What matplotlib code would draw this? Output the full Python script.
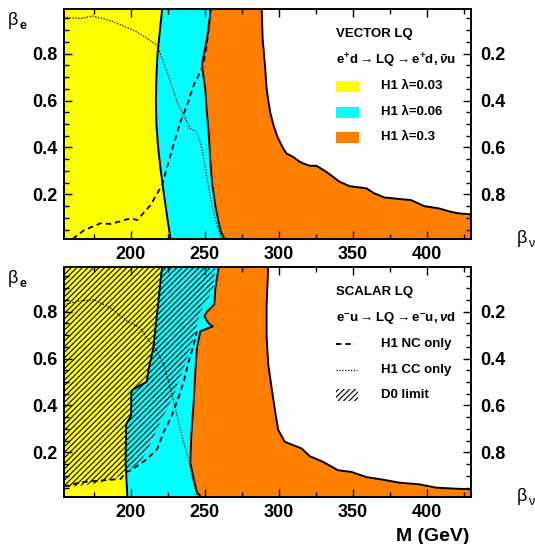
import matplotlib
matplotlib.use("Agg")
import matplotlib.pyplot as plt
from matplotlib.patches import Rectangle
from matplotlib.ticker import MultipleLocator, FormatStrFormatter

plt.rcParams['font.family'] = ['Liberation Sans', 'DejaVu Sans']
plt.rcParams['font.weight'] = 'bold'
plt.rcParams['mathtext.fontset'] = 'custom'
plt.rcParams['mathtext.rm'] = 'Liberation Sans'
plt.rcParams['mathtext.bf'] = 'Liberation Sans:bold'
plt.rcParams['mathtext.it'] = 'Liberation Sans:italic'
plt.rcParams['hatch.linewidth'] = 0.8

M_MIN, M_MAX = 155, 430
B_MIN, B_MAX = 0.01, 0.99

YELLOW = '#ffff00'
CYAN = '#00ffff'
ORANGE = '#ff8000'

# ---- vector LQ (top) : excluded regions, boundary M(beta_e) ----
vec_l003_b = [0.99, 0.90, 0.80, 0.70, 0.60, 0.50, 0.40, 0.30, 0.20, 0.10, 0.01]
vec_l003_m = [221.3, 219.8, 218.2, 217.4, 217.1, 217.4, 218.6, 220.4, 222.5, 224.8, 227.0]

vec_l006_b = [0.99, 0.93, 0.864, 0.80, 0.75, 0.70, 0.65, 0.55, 0.466, 0.35, 0.254, 0.154, 0.083, 0.04, 0.01]
vec_l006_m = [254.2, 253.0, 251.6, 249.5, 248.2, 249.3, 250.4, 251.5, 252.7, 253.8, 254.9, 257.2, 259.4, 261.0, 263.5]

vec_l03_b = [0.99, 0.864, 0.75, 0.651, 0.601, 0.545, 0.50, 0.445, 0.396, 0.374, 0.36, 0.339, 0.332,
             0.322, 0.322, 0.296, 0.254, 0.235, 0.226, 0.204, 0.187, 0.179, 0.176, 0.15, 0.14,
             0.126, 0.119, 0.115]
vec_l03_m = [288.6, 289.2, 290.8, 291.9, 293.0, 294.5, 296.3, 299.2, 303.1, 305.4, 309.8, 314.3, 316.6,
             321.0, 325.6, 332.3, 341.2, 348.0, 359.2, 364.8, 371.5, 383.8, 389.4, 398.4, 408.5,
             416.3, 421.9, 430.0]

vec_nc_m = [160.8, 168.6, 179.8, 186.5, 200.0, 204.5, 213.4, 221.3, 226.9, 233.6, 238.1, 242.6,
            247.1, 249.3, 251.5, 253.0, 254.0]
vec_nc_b = [0.01, 0.048, 0.077, 0.074, 0.098, 0.091, 0.154, 0.24, 0.367, 0.509, 0.58, 0.665,
            0.722, 0.76, 0.84, 0.92, 0.99]

vec_cc_m = [155.0, 166.4, 174.2, 186.5, 202.2, 210.0, 217.9, 224.7, 231.4, 240.3, 244.8, 248.2,
            251.6, 255.0, 258.3, 260.5, 261.5]
vec_cc_b = [0.956, 0.949, 0.96, 0.94, 0.899, 0.87, 0.835, 0.722, 0.594, 0.481, 0.466, 0.396,
            0.268, 0.154, 0.069, 0.027, 0.01]

# ---- scalar LQ (bottom) ----
sca_l003_b = [0.99, 0.93, 0.83, 0.73, 0.644, 0.558, 0.50, 0.487, 0.466, 0.451, 0.358, 0.32, 0.158, 0.01]
sca_l003_m = [221.3, 220.2, 218.6, 216.8, 215.3, 212.3, 210.8, 206.7, 201.1, 200.4, 200.4, 197.0, 196.6, 197.8]

sca_l006_b = [0.99, 0.90, 0.83, 0.80, 0.78, 0.75, 0.737, 0.716, 0.644, 0.544, 0.416, 0.273, 0.158,
              0.087, 0.03, 0.01]
sca_l006_m = [259.5, 257.3, 256.5, 251.6, 249.8, 252.7, 255.6, 247.1, 244.8, 243.7, 242.6, 241.0, 240.3,
              242.6, 244.8, 247.5]

sca_l03_b = [0.99, 0.83, 0.69, 0.574, 0.474, 0.381, 0.296, 0.245, 0.231, 0.217, 0.184, 0.16, 0.124,
             0.117, 0.095, 0.084, 0.071, 0.064, 0.05, 0.046, 0.043]
sca_l03_m = [293.0, 291.9, 291.9, 293.0, 295.3, 297.5, 299.7, 304.2, 309.8, 315.5, 321.0, 330.0, 340.1,
             349.1, 359.2, 370.3, 381.6, 395.0, 406.3, 417.4, 430.0]

sca_nc_m = [155.0, 157.4, 166.4, 179.8, 193.3, 196.6, 200.0, 211.2, 218.0, 222.4, 226.9, 231.4, 235.8,
            239.2, 242.6, 244.8]
sca_nc_b = [0.055, 0.058, 0.073, 0.08, 0.087, 0.115, 0.123, 0.172, 0.215, 0.287, 0.343, 0.416, 0.5,
            0.587, 0.657, 0.716]

sca_cc_m = [155.0, 164.2, 175.3, 186.5, 197.8, 206.7, 211.2, 218.0, 222.4, 225.8, 229.1, 232.5, 235.8,
            239.2, 241.4, 243.7, 244.8]
sca_cc_b = [0.83, 0.844, 0.851, 0.815, 0.758, 0.73, 0.687, 0.63, 0.573, 0.5, 0.416, 0.33, 0.244,
            0.172, 0.1, 0.044, 0.01]

d0_m = [155.0, 257.2, 256.0, 252.0, 247.1, 242.6, 235.8, 229.1, 220.2, 213.4, 206.7, 200.0, 190.0, 175.0, 155.0]
d0_b = [0.99, 0.99, 0.90, 0.85, 0.80, 0.687, 0.558, 0.444, 0.33, 0.237, 0.158, 0.13, 0.09, 0.065, 0.05]

HATCH = '//////'


def region(ax, m, b, color):
    xs = [M_MIN] + list(m)
    ys = [B_MAX] + list(b)
    if m[-1] >= M_MAX:
        xs += [M_MAX]
        ys += [B_MIN]
    xs += [M_MIN]
    ys += [B_MIN]
    ax.fill(xs, ys, color=color, lw=0, zorder=1)
    ax.plot(m, b, color='k', lw=1.4, zorder=4)


def frame(ax, fig, top_px):
    ax.set_xlim(M_MIN, M_MAX)
    ax.set_ylim(B_MIN, B_MAX)
    ax.xaxis.set_major_locator(MultipleLocator(50))
    ax.xaxis.set_minor_locator(MultipleLocator(25))
    ax.yaxis.set_major_locator(MultipleLocator(0.2))
    ax.yaxis.set_minor_locator(MultipleLocator(0.05))
    ax.yaxis.set_major_formatter(FormatStrFormatter('%.1f'))
    ax.tick_params(which='both', direction='in', top=True, right=False, width=1)
    ax.tick_params(which='major', length=6, labelsize=13, pad=5)
    ax.tick_params(which='minor', length=3.5)
    for s in ax.spines.values():
        s.set_linewidth(1.2)
        s.set_zorder(6)
    ax2 = ax.twinx()
    ax2.set_ylim(1 - B_MIN, 1 - B_MAX)
    ax2.yaxis.set_major_locator(MultipleLocator(0.2))
    ax2.yaxis.set_minor_locator(MultipleLocator(0.05))
    ax2.yaxis.set_major_formatter(FormatStrFormatter('%.1f'))
    ax2.tick_params(which='both', direction='in', width=1)
    ax2.tick_params(which='major', length=6, labelsize=13, pad=7)
    ax2.tick_params(which='minor', length=3.5)
    for s in ax2.spines.values():
        s.set_linewidth(1.2)
    # beta_e label (left) and beta_nu label (right)
    fig.text(8 / 535, 1 - (top_px + 16) / 544, 'β', fontsize=13, fontweight='normal', va='baseline')
    fig.text(19 / 535, 1 - (top_px + 20) / 544, 'e', fontsize=9, fontweight='bold', va='baseline')
    fig.text(517 / 535, 1 - (top_px + 234) / 544, 'β', fontsize=13, fontweight='normal', va='baseline')
    fig.text(528 / 535, 1 - (top_px + 238) / 544, 'ν', fontsize=9, fontweight='normal', va='baseline')


fig = plt.figure(figsize=(5.35, 5.44), dpi=100)
ax_top = fig.add_axes([64 / 535, 1 - 239 / 544, 407 / 535, 230 / 544])
ax_bot = fig.add_axes([64 / 535, 1 - 497 / 544, 407 / 535, 230 / 544])

# ---- top panel ----
region(ax_top, vec_l03_m, vec_l03_b, ORANGE)
region(ax_top, vec_l006_m, vec_l006_b, CYAN)
region(ax_top, vec_l003_m, vec_l003_b, YELLOW)
ax_top.plot(vec_nc_m, vec_nc_b, color='k', lw=1.3, ls=(0, (3, 2.2)), zorder=5)
ax_top.plot(vec_cc_m, vec_cc_b, color='k', lw=0.9, ls=(0, (1, 1.3)), zorder=5)
frame(ax_top, fig, 9)

ax_top.text(0.668, 0.891, 'VECTOR LQ', transform=ax_top.transAxes, fontsize=9.5, va='center')
ax_top.text(0.668, 0.774, r'$\mathbf{e^{+}d}\rightarrow\mathbf{LQ}\rightarrow\mathbf{e^{+}d},\bar{\nu}\mathbf{u}$',
            transform=ax_top.transAxes, fontsize=9.5, va='center')
for yc, col, lab in [(0.665, YELLOW, 'H1 λ=0.03'), (0.552, CYAN, 'H1 λ=0.06'), (0.443, ORANGE, 'H1 λ=0.3')]:
    ax_top.add_patch(Rectangle((0.668, yc - 0.024), 0.057, 0.048, transform=ax_top.transAxes,
                               color=col, lw=0, zorder=6))
    ax_top.text(0.779, yc, lab, transform=ax_top.transAxes, fontsize=9.5, va='center')

# ---- bottom panel ----
region(ax_bot, sca_l03_m, sca_l03_b, ORANGE)
region(ax_bot, sca_l006_m, sca_l006_b, CYAN)
region(ax_bot, sca_l003_m, sca_l003_b, YELLOW)
ax_bot.fill(d0_m, d0_b, facecolor='none', edgecolor='k', hatch=HATCH, lw=0, zorder=3)
ax_bot.plot(sca_nc_m, sca_nc_b, color='k', lw=1.3, ls=(0, (3, 2.2)), zorder=5)
ax_bot.plot(sca_cc_m, sca_cc_b, color='k', lw=0.9, ls=(0, (1, 1.3)), zorder=5)
frame(ax_bot, fig, 267)

ax_bot.text(0.668, 0.89, 'SCALAR LQ', transform=ax_bot.transAxes, fontsize=9.5, va='center')
ax_bot.text(0.668, 0.776, r'$\mathbf{e^{-}u}\rightarrow\mathbf{LQ}\rightarrow\mathbf{e^{-}u},\nu\mathbf{d}$',
            transform=ax_bot.transAxes, fontsize=9.5, va='center')
ax_bot.plot([0.668, 0.715], [0.667, 0.667], transform=ax_bot.transAxes, color='k', lw=1.3, ls=(0, (3, 2.2)))
ax_bot.plot([0.668, 0.72], [0.553, 0.553], transform=ax_bot.transAxes, color='k', lw=0.9, ls=(0, (1, 1.3)))
ax_bot.add_patch(Rectangle((0.668, 0.418), 0.055, 0.05, transform=ax_bot.transAxes, fill=False,
                           hatch=HATCH, edgecolor='k', lw=0))
ax_bot.text(0.779, 0.667, 'H1 NC only', transform=ax_bot.transAxes, fontsize=9.5, va='center')
ax_bot.text(0.779, 0.553, 'H1 CC only', transform=ax_bot.transAxes, fontsize=9.5, va='center')
ax_bot.text(0.779, 0.443, 'D0 limit', transform=ax_bot.transAxes, fontsize=9.5, va='center')

fig.text(469 / 535, 1 - 541 / 544, 'M (GeV)', fontsize=14, ha='right', va='baseline')

fig.savefig('out.png', dpi=100)
